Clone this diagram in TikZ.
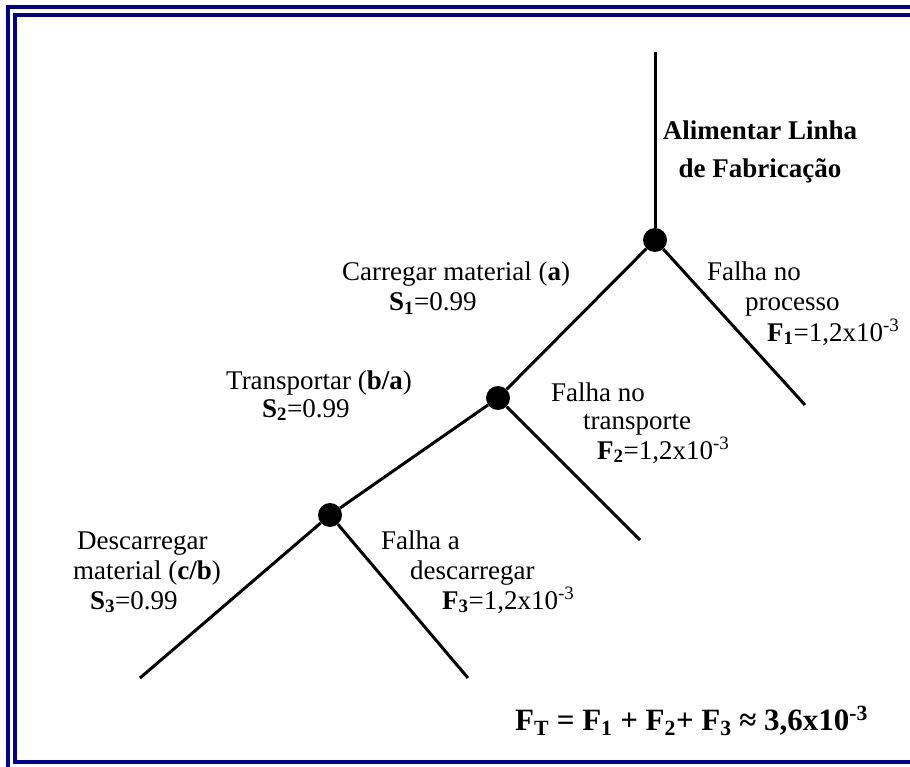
\documentclass[tikz,border=0pt]{standalone}
\usepackage{fontspec}
\setmainfont{Liberation Serif}
\definecolor{framecol}{RGB}{0,0,140}
\newcommand\Sub[1]{\textsubscript{\textbf{#1}}}
\newcommand\Sup[1]{\textsuperscript{#1}}
\begin{document}
\begin{tikzpicture}[x=1pt,y=-1pt,
  frameline/.style={draw=framecol,line width=4pt},
  branch/.style={line width=3pt},
  dot/.style={circle,fill=black,inner sep=0pt,minimum size=24pt},
  lbl/.style={anchor=base west,inner sep=0pt,font=\fontsize{27}{31}\selectfont},
  bigl/.style={anchor=base west,inner sep=0pt,font=\fontsize{31}{35}\selectfont\bfseries}]
\useasboundingbox (0,0) rectangle (910,767);
\draw[frameline] (8,767) -- (8,7.5) -- (910,7.5);
\draw[frameline] (910,762) -- (15,762) -- (15,15) -- (910,15);

\coordinate (top) at (655,52);
\node[dot] (n1) at (655,240) {};
\node[dot] (n2) at (498,398) {};
\node[dot] (n3) at (330,515) {};
\coordinate (e1) at (805,405);
\coordinate (e2) at (640,540);
\coordinate (e3) at (468,678);
\coordinate (e4) at (140,678);
\draw[branch] (top) -- (n1);
\draw[branch] (n1) -- (e1);
\draw[branch] (n1) -- (n2);
\draw[branch] (n2) -- (e2);
\draw[branch] (n2) -- (n3);
\draw[branch] (n3) -- (e3);
\draw[branch] (n3) -- (e4);

\node[lbl,anchor=base,font=\fontsize{27}{31}\selectfont\bfseries] (t1) at (760,140) {Alimentar Linha};
\node[lbl,anchor=base,font=\fontsize{27}{31}\selectfont\bfseries] (t2) at (760,178) {de Fabricação};

\node[lbl] (a1) at (342,281) {Carregar material (\textbf{a})};
\node[lbl] (a2) at (389,311) {\textbf{S}\Sub{1}=0.99};
\node[lbl] (f1a) at (707,281) {Falha no};
\node[lbl] (f1b) at (745,311) {processo};
\node[lbl] (f1c) at (767,341) {\textbf{F}\Sub{1}=1,2x10\Sup{-3}};

\node[lbl] (b1) at (226,389) {Transportar (\textbf{b/a})};
\node[lbl] (b2) at (262,417) {\textbf{S}\Sub{2}=0.99};
\node[lbl] (f2a) at (551,401) {Falha no};
\node[lbl] (f2b) at (583,429) {transporte};
\node[lbl] (f2c) at (597,459) {\textbf{F}\Sub{2}=1,2x10\Sup{-3}};

\node[lbl] (c1) at (77,549) {Descarregar};
\node[lbl] (c2) at (73,579) {material (\textbf{c/b})};
\node[lbl] (c3) at (90,609) {\textbf{S}\Sub{3}=0.99};
\node[lbl] (f3a) at (381,549) {Falha a};
\node[lbl] (f3b) at (410,579) {descarregar};
\node[lbl] (f3c) at (442,609) {\textbf{F}\Sub{3}=1,2x10\Sup{-3}};

\node[bigl] (ft) at (515,730) {F\textsubscript{T} = F\textsubscript{1} + F\textsubscript{2}+ F\textsubscript{3} ≈ 3,6x10\textsuperscript{-3}};
\end{tikzpicture}
\end{document}
